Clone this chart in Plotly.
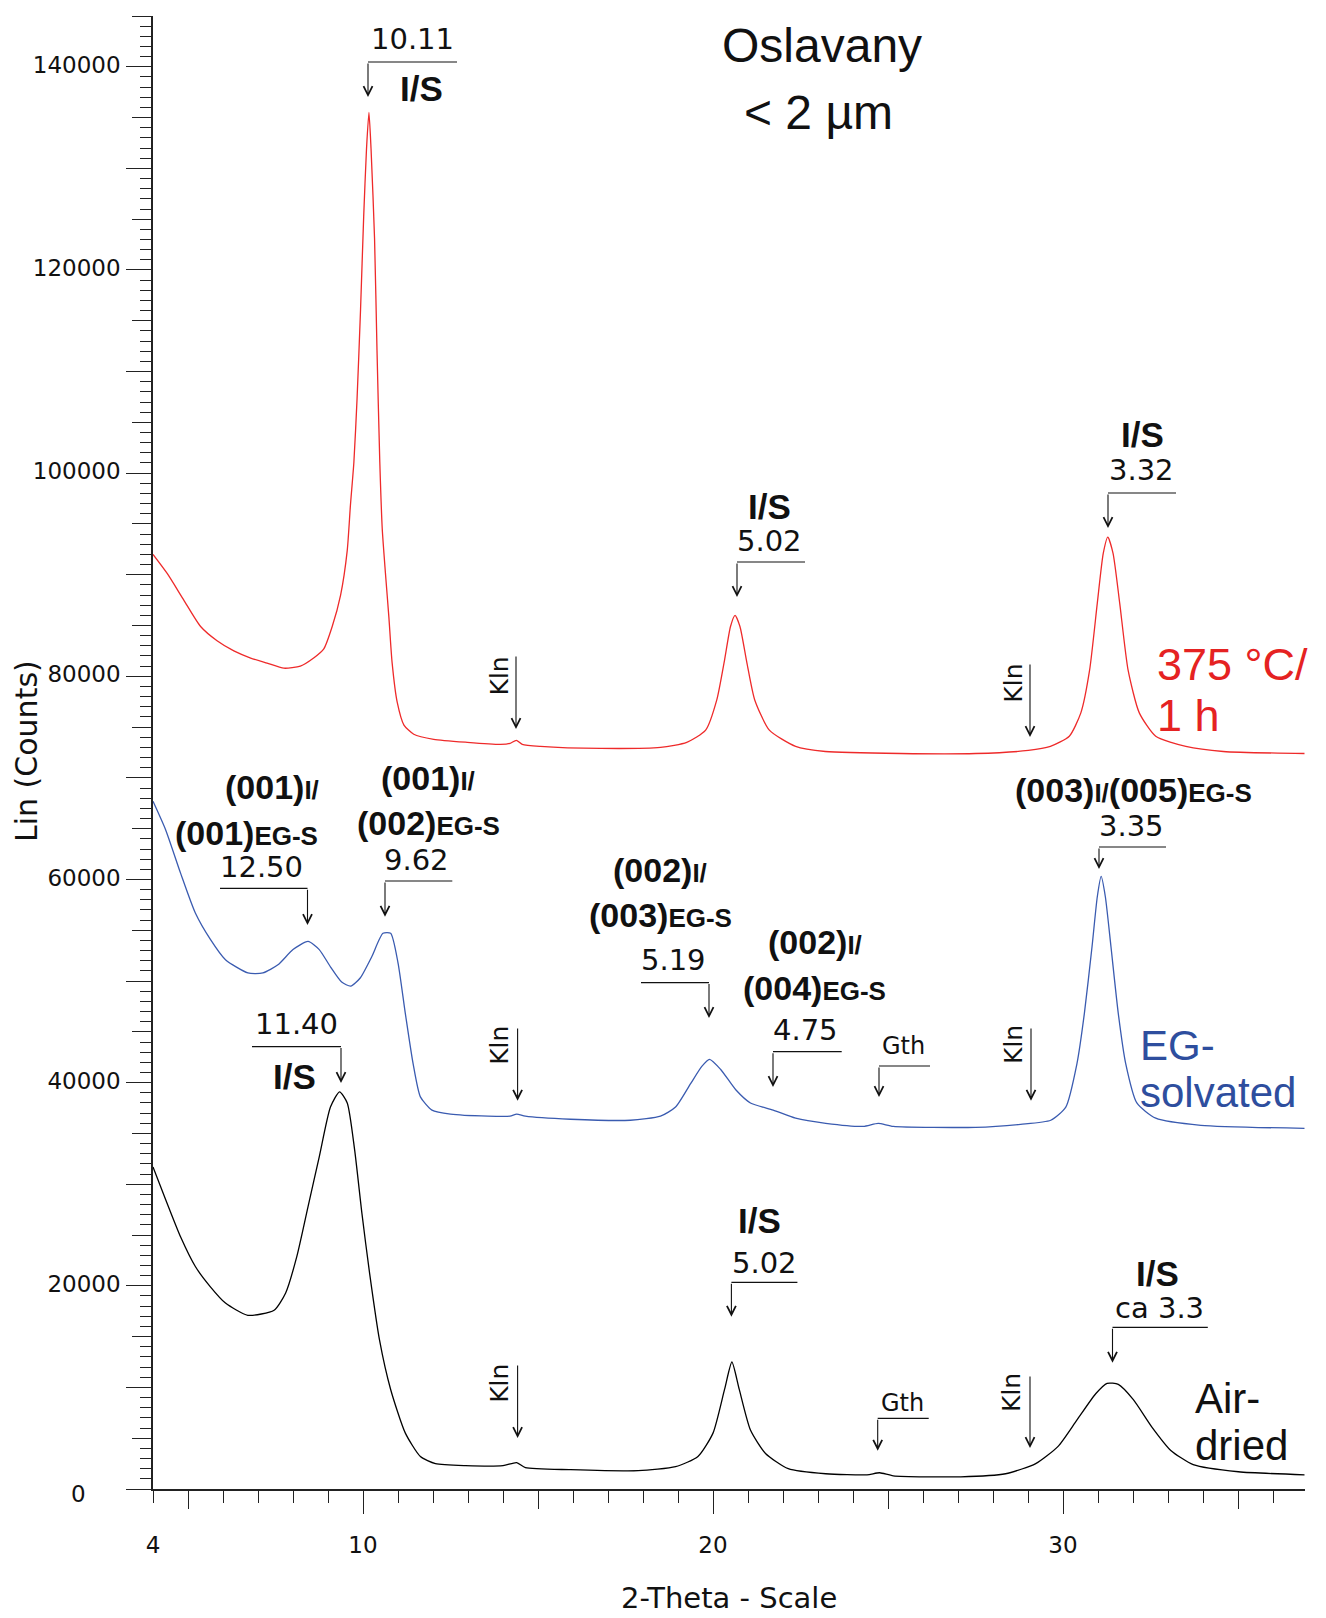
import plotly.graph_objects as go

# ---------------- data ----------------
two_theta_heated = [4.0, 4.41, 4.88, 5.36, 5.83, 6.31, 6.79, 7.26, 7.74, 8.21, 8.59, 8.88, 9.12,
                    9.36, 9.55, 9.64, 9.74, 9.83, 9.93, 10.02, 10.10, 10.17, 10.23, 10.33, 10.40,
                    10.48, 10.55, 10.64, 10.74, 10.83, 10.98, 11.17, 11.45, 12.02, 12.98, 13.93,
                    14.20, 14.38, 14.55, 15.07, 16.79, 18.5, 19.25, 19.79, 20.11, 20.33, 20.5,
                    20.63, 20.77, 20.97, 21.19, 21.61, 22.36, 23.21, 25.36, 27.5, 29.01, 29.64,
                    30.18, 30.51, 30.76, 30.98, 31.15, 31.28, 31.43, 31.62, 31.86, 32.18, 32.65,
                    33.51, 34.58, 36.9]
counts_heated = [92000, 90100, 87500, 84900, 83500, 82500, 81800, 81300, 80800, 81000, 81800,
                 82700, 84900, 88000, 92400, 96800, 101100, 107300, 116100, 125300, 131900,
                 135500, 131900, 123100, 112100, 101100, 94500, 90200, 85800, 81400, 77400,
                 75200, 74300, 73800, 73500, 73300, 73400, 73700, 73300, 73100, 72900, 73000,
                 73500, 74700, 77700, 81600, 84900, 86000, 84900, 81300, 77700, 74700, 73100,
                 72600, 72400, 72400, 72700, 73100, 74100, 76400, 80600, 87200, 92100, 93700,
                 92100, 87200, 80600, 76400, 74100, 73100, 72600, 72400]

two_theta_eg = [4.0, 4.36, 4.79, 5.21, 5.64, 6.07, 6.71, 7.14, 7.57, 8.0, 8.43, 8.75, 9.07, 9.39,
                9.65, 9.92, 10.25, 10.57, 10.79, 11.0, 11.21, 11.43, 11.64, 11.97, 12.5, 13.57,
                14.2, 14.39, 14.64, 15.93, 17.64, 18.5, 18.93, 19.36, 19.68, 19.9, 20.22, 20.65,
                21.07, 21.72, 22.36, 23.22, 24.29, 24.72, 25.15, 27.5, 28.79, 29.65, 30.08, 30.4,
                30.61, 30.83, 30.98, 31.09, 31.21, 31.37, 31.58, 31.79, 32.11, 32.65, 33.94, 36.9]
counts_eg = [67700, 64900, 60600, 56700, 54100, 52100, 50800, 50800, 51600, 53100, 53900, 53100,
             51400, 49900, 49500, 50300, 52400, 54700, 54700, 51800, 46800, 41900, 38600, 37300,
             36900, 36700, 36700, 36900, 36700, 36400, 36300, 36700, 37600, 39900, 41600, 42300,
             41300, 39300, 38000, 37300, 36500, 36000, 35700, 36000, 35700, 35600, 35900, 36300,
             37600, 41900, 46800, 53400, 58300, 60300, 58300, 53400, 46800, 41900, 38000, 36500,
             35800, 35500]

two_theta_air = [4.0, 4.36, 4.79, 5.21, 5.64, 6.07, 6.71, 7.46, 7.79, 8.11, 8.43, 8.75, 9.07,
                 9.33, 9.55, 9.76, 9.97, 10.19, 10.47, 10.79, 11.21, 11.64, 12.07, 12.93, 14.0,
                 14.39, 14.64, 15.93, 17.86, 18.93, 19.57, 20.0, 20.33, 20.54, 20.75, 21.07, 21.5,
                 22.15, 23.22, 24.4, 24.76, 25.15, 27.08, 28.36, 29.22, 29.86, 30.4, 30.94, 31.26,
                 31.58, 32.01, 32.54, 33.08, 33.72, 35.01, 36.9]
counts_air = [31700, 28500, 24800, 21900, 19900, 18300, 17100, 17600, 19300, 22900, 27800, 32700,
              37600, 39100, 38000, 33400, 27100, 21200, 14700, 9800, 5500, 3200, 2500, 2300, 2300,
              2600, 2100, 1900, 1800, 2200, 3200, 5500, 9800, 12500, 9800, 5800, 3500, 2000, 1500,
              1400, 1600, 1300, 1200, 1500, 2500, 4200, 6800, 9400, 10400, 10300, 8800, 6100, 3800,
              2400, 1700, 1400]

x_label_values = [4, 10, 20, 30]
y_label_values = [20000, 40000, 60000, 80000, 100000, 120000, 140000]

# ---------------- layout geometry ----------------
W, H = 1326, 1618
ML, MR, MT, MB = 153, 21, 16, 129
PW, PH = W - ML - MR, H - MT - MB
X_MIN = 4.0
X_MAX = X_MIN + PW / 35.0
Y_MIN, Y_MAX = 0, 145000

INK = "#111111"
AX = "#222222"
RED = "#EE2A2A"
RED_TXT = "#E52222"
BLUE = "#3A5BB0"
BLUE_TXT = "#2E4E9E"
NUMF = "DejaVu Sans"
SANS = "Liberation Sans"


def px(x):
    return (x - ML) / PW


def py(y):
    return 1 - (y - MT) / PH


annotations = []
shapes = []


def text(t, x, y, size=29, family=NUMF, color=INK, xanchor="center", angle=0, align="center"):
    annotations.append(dict(text=t, x=px(x), y=py(y), xref="paper", yref="paper",
                            showarrow=False, xanchor=xanchor, yanchor="middle", align=align,
                            textangle=angle, font=dict(family=family, size=size, color=color)))


def big_two_lines(l1, l2, x, y, glyph_size, pitch, color):
    # glyphs drawn at glyph_size; line pitch set by the base font size (plotly uses 1.3 em)
    s = (f"<span style='font-size:{glyph_size}px'>{l1}</span><br>"
         f"<span style='font-size:{glyph_size}px'>{l2}</span>")
    text(s, x, y, size=pitch / 1.3, family=SANS, color=color, xanchor="left", align="left")


def pointer(x, y_top, y_tip, x_end=None):
    if x_end is not None:
        shapes.append(dict(type="line", xref="paper", yref="paper",
                           x0=px(x), x1=px(x_end), y0=py(y_top), y1=py(y_top),
                           line=dict(color=INK, width=1.2)))
    annotations.append(dict(text="", x=px(x), y=py(y_tip), xref="paper", yref="paper",
                            ax=0, ay=-(y_tip - y_top), showarrow=True, arrowhead=5,
                            arrowsize=1.6, arrowwidth=1.1, arrowcolor=INK, standoff=0))


def label_is(x, y):
    text("<b>I/S</b>", x, y, size=35, family=SANS)


def hkl(parts, x, y):
    s = ""
    for main, sub in parts:
        s += main + "<span style='font-size:26px'>" + sub + "</span>"
    text("<b>" + s + "</b>", x, y, size=34, family=SANS)


def kln(x, y, ax_x, a_top, a_tip):
    text("Kln", x, y, size=25, family=NUMF, angle=-90)
    pointer(ax_x, a_top, a_tip)


# title
text("Oslavany", 822, 45, size=48, family=SANS)
text("< 2 µm", 818, 112, size=48, family=SANS)

# ---- heated (red) ----
text("10.11", 412, 39)
pointer(368, 62, 97, 457)
label_is(421, 88)
kln(498.5, 676, 516, 655, 729)
label_is(769, 506)
text("5.02", 769, 541)
pointer(737, 562, 597, 805)
kln(1012.7, 683, 1030, 663, 737)
label_is(1142, 434.5)
text("3.32", 1141, 469.5)
pointer(1108, 493, 528, 1176)
big_two_lines("375 °C/", "1 h", 1155, 690.5, 45, 51, RED_TXT)

# ---- EG-solvated (blue) ----
hkl([("(001)", "I/")], 272, 786.7)
hkl([("(001)", "EG-S")], 246.5, 833)
text("12.50", 261, 867)
pointer(307.5, 888.3, 925, 220)
hkl([("(001)", "I/")], 428, 778)
hkl([("(002)", "EG-S")], 428, 823)
text("9.62", 416.5, 860)
pointer(385, 881, 916.7, 452.3)
hkl([("(002)", "I/")], 660, 870)
hkl([("(003)", "EG-S")], 660, 915)
text("5.19", 673, 960)
pointer(709, 982.6, 1018, 641)
hkl([("(002)", "I/")], 814.5, 941.5)
hkl([("(004)", "EG-S")], 814.5, 988)
text("4.75", 805.5, 1030)
pointer(773, 1051.7, 1087, 841.7)
text("Gth", 903, 1046, size=24)
pointer(879, 1066, 1097, 930)
kln(498.8, 1045, 517.6, 1027, 1100.7)
kln(1013, 1045, 1031, 1027, 1100.7)
hkl([("(003)", "I/"), ("(005)", "EG-S")], 1133, 790)
text("3.35", 1131, 825.5)
pointer(1099, 847, 869, 1166)
big_two_lines("EG-", "solvated", 1138, 1068.5, 42, 47, BLUE_TXT)

# ---- air-dried (black) ----
text("11.40", 296, 1024)
pointer(341, 1046.6, 1083, 252)
label_is(294, 1076.5)
kln(498.8, 1383, 517.6, 1364, 1438)
label_is(759, 1220)
text("5.02", 764, 1263)
pointer(731.4, 1282.3, 1316.7, 797.4)
text("Gth", 902.5, 1402.7, size=24)
pointer(877.7, 1418.3, 1450.7, 928.7)
kln(1011, 1393, 1030, 1375, 1448)
label_is(1157.5, 1273)
text("ca 3.3", 1159, 1308.3)
pointer(1112.5, 1327.3, 1362.7, 1207.8)
big_two_lines("Air-", "dried", 1193, 1421.5, 42, 47, INK)

# axis titles and the offset zero label
text("2-Theta - Scale", 728.6, 1598, size=29)
text("Lin (Counts)", 26, 751, size=30, angle=-90)
text("0", 78, 1494, size=23)

line_style = dict(shape="spline", smoothing=0.6, width=1.3)
fig = go.Figure()
fig.add_trace(go.Scatter(x=two_theta_heated, y=counts_heated, mode="lines", name="375 °C/1 h",
                         line=dict(color=RED, **line_style)))
fig.add_trace(go.Scatter(x=two_theta_eg, y=counts_eg, mode="lines", name="EG-solvated",
                         line=dict(color=BLUE, **line_style)))
fig.add_trace(go.Scatter(x=two_theta_air, y=counts_air, mode="lines", name="Air-dried",
                         line=dict(color="#000000", **line_style)))
# empty helper traces carrying the overlay axes that draw the longer tick marks
fig.add_trace(go.Scatter(x=[], y=[], xaxis="x2", yaxis="y2", showlegend=False, hoverinfo="skip"))
fig.add_trace(go.Scatter(x=[], y=[], xaxis="x3", yaxis="y3", showlegend=False, hoverinfo="skip"))

x_minor = list(range(4, 37))
x_text = [str(v) if v in x_label_values else "" for v in x_minor]
y_minor = list(range(0, 145001, 1000))
y_text = [str(v) if v in y_label_values else "" for v in y_minor]

tick_font = dict(family=NUMF, size=23, color=INK)


def overlay_axis(base, anchor, side, vals, length, rng):
    return dict(range=rng, overlaying=base, anchor=anchor, side=side,
                showgrid=False, zeroline=False, showline=False, showticklabels=False,
                tickmode="array", tickvals=vals, ticks="outside", ticklen=length,
                tickwidth=1.3, tickcolor=AX)


fig.update_layout(
    width=W, height=H, autosize=False,
    margin=dict(l=ML, r=MR, t=MT, b=MB, autoexpand=False),
    paper_bgcolor="white", plot_bgcolor="white",
    showlegend=False,
    font=dict(family=SANS, color=INK),
    xaxis=dict(range=[X_MIN, X_MAX], showgrid=False, zeroline=False,
               showline=True, linecolor=AX, linewidth=1.6,
               tickmode="array", tickvals=x_minor, ticktext=x_text,
               ticks="outside", ticklen=12, tickwidth=1.3, tickcolor=AX,
               tickfont=tick_font, ticklabelstandoff=23),
    xaxis2=overlay_axis("x", "y2", "bottom", [10, 20, 30], 24, [X_MIN, X_MAX]),
    xaxis3=overlay_axis("x", "y3", "bottom", [5, 15, 25, 35], 19, [X_MIN, X_MAX]),
    yaxis=dict(range=[Y_MIN, Y_MAX], showgrid=False, zeroline=False,
               showline=True, linecolor=AX, linewidth=1.6,
               tickmode="array", tickvals=y_minor, ticktext=y_text,
               ticks="outside", ticklen=11, tickwidth=1.2, tickcolor=AX,
               tickfont=tick_font, ticklabelstandoff=15, ticklabelshift=-2),
    yaxis2=overlay_axis("y", "x2", "left", list(range(0, 140001, 10000)), 26, [Y_MIN, Y_MAX]),
    yaxis3=overlay_axis("y", "x3", "left", list(range(5000, 145001, 10000)), 20, [Y_MIN, Y_MAX]),
    annotations=annotations,
    shapes=shapes,
)

fig.write_html("out.html")
